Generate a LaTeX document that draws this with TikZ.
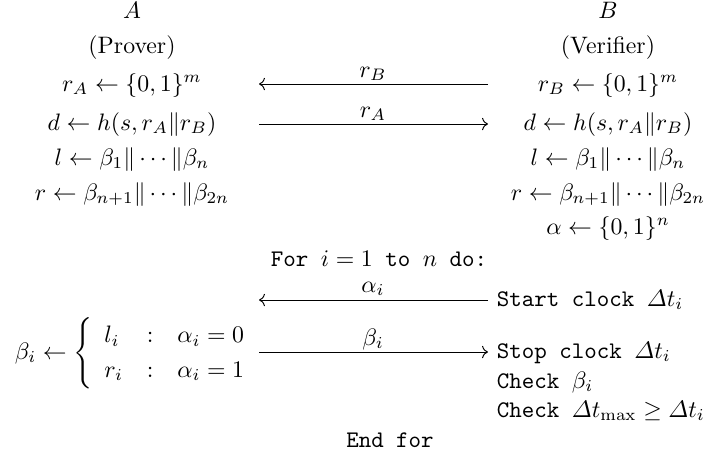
\documentclass[tikz,border=0pt]{standalone}
\usepackage{amsmath}
\usetikzlibrary{arrows.meta}
\tikzset{
  row/.style={inner sep=0pt,outer sep=0pt,anchor=base},
  rowl/.style={inner sep=0pt,outer sep=0pt,anchor=base west},
  msg/.style={line width=0.4pt,-{Computer Modern Rightarrow}},
}
\begin{document}
\begin{tikzpicture}[x=0.4202pt,y=-0.4202pt]
\useasboundingbox (0,0) rectangle (709,454);
% left column (Prover)
\node[row] (A)   at (132,18)  {$A$};
\node[row] (P)   at (132,53)  {(Prover)};
\node[row] (LrA) at (132,91)  {$r_A \leftarrow \{0,1\}^m$};
\node[row] (Ld)  at (132,130) {$d \leftarrow h(s, r_A \| r_B)$};
\node[row] (Ll)  at (132,165) {$l \leftarrow \beta_1 \| \cdots \| \beta_n$};
\node[row] (Lr)  at (132,200) {$r \leftarrow \beta_{n+1} \| \cdots \| \beta_{2n}$};
% right column (Verifier)
\node[row] (B)   at (608,18)  {$B$};
\node[row] (V)   at (608,53)  {(Verifier)};
\node[row] (RrB) at (608,91)  {$r_B \leftarrow \{0,1\}^m$};
\node[row] (Rd)  at (608,130) {$d \leftarrow h(s, r_A \| r_B)$};
\node[row] (Rl)  at (608,165) {$l \leftarrow \beta_1 \| \cdots \| \beta_n$};
\node[row] (Rr)  at (608,200) {$r \leftarrow \beta_{n+1} \| \cdots \| \beta_{2n}$};
\node[row] (Ral) at (608,234) {$\alpha \leftarrow \{0,1\}^n$};
% loop
\node[row] (For) at (379,266) {\ttfamily For $i = 1$ to $n$ do:};
\node[rowl] (Start) at (497,306) {\ttfamily Start clock $\varDelta t_i$};
\node[rowl] (Beta) at (15,359) {$\beta_i \leftarrow \left\{\renewcommand{\arraystretch}{1.2}\begin{array}{lcl} l_i & : & \alpha_i = 0\\ r_i & : & \alpha_i = 1\end{array}\right.$};
\node[rowl] (Stop) at (497,358) {\ttfamily Stop clock $\varDelta t_i$};
\node[rowl] (Chk1) at (497,388) {\ttfamily Check $\beta_i$};
\node[rowl] (Chk2) at (497,417) {\ttfamily Check $\varDelta t_{\max} \geq \varDelta t_i$};
\node[row] (End) at (390,447) {\ttfamily End for};
% messages
\coordinate (m1r) at (488,84);  \coordinate (m1l) at (259,84);
\coordinate (m2l) at (259,124); \coordinate (m2r) at (488,124);
\coordinate (m3r) at (488,300); \coordinate (m3l) at (259,300);
\coordinate (m4l) at (259,352); \coordinate (m4r) at (488,352);
\draw[msg] (m1r) -- (m1l);
\draw[msg] (m2l) -- (m2r);
\draw[msg] (m3r) -- (m3l);
\draw[msg] (m4l) -- (m4r);
\node[row] (l1) at (373,77)  {$r_B$};
\node[row] (l2) at (373,117) {$r_A$};
\node[row] (l3) at (373,292) {$\alpha_i$};
\node[row] (l4) at (373,345) {$\beta_i$};
\end{tikzpicture}
\end{document}
